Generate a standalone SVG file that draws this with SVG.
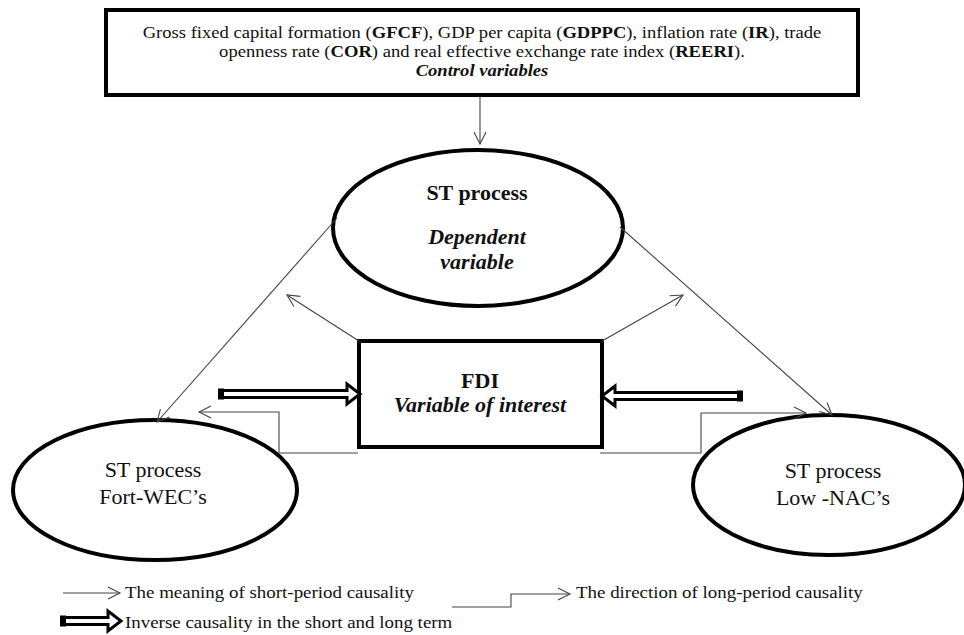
<svg xmlns="http://www.w3.org/2000/svg" width="964" height="635" viewBox="0 0 964 635">
<style>
.t{font-family:"Liberation Serif","Times New Roman",serif;fill:#111}
.b{font-weight:bold}
.i{font-style:italic}
.box{fill:#fff;stroke:#000;stroke-width:4}
.thin{fill:none;stroke:#444;stroke-width:1.1}
.dbl{fill:#fff;stroke:#000;stroke-width:3}
</style>
<defs>
<marker id="ah" markerUnits="userSpaceOnUse" markerWidth="14" markerHeight="14" refX="12" refY="6" orient="auto" overflow="visible">
<path d="M0,0 L12,6 L0,12" fill="none" stroke="#444" stroke-width="1.1"/>
</marker>
</defs>
<rect width="964" height="635" fill="#fff"/>

<g id="controls">
<rect class="box" x="106" y="10" width="752" height="85"/>
<text class="t" font-size="16.9" text-anchor="middle" transform="translate(482,38) scale(1.1,1)">Gross fixed capital formation (<tspan class="b">GFCF</tspan>), GDP per capita (<tspan class="b">GDPPC</tspan>), inflation rate (<tspan class="b">IR</tspan>), trade</text>
<text class="t" font-size="16.9" text-anchor="middle" transform="translate(482,57) scale(1.1,1)">openness rate (<tspan class="b">COR</tspan>) and real effective exchange rate index (<tspan class="b">REERI</tspan>).</text>
<text class="t b i" font-size="16.9" text-anchor="middle" transform="translate(482,76) scale(1.1,1)">Control variables</text>
</g>

<g id="st-dependent">
<ellipse class="box" cx="478" cy="228" rx="145" ry="78"/>
<text class="t b" font-size="20" text-anchor="middle" transform="translate(477,200) scale(1.1,1)">ST process</text>
<text class="t b i" font-size="20" text-anchor="middle" transform="translate(477,244) scale(1.1,1)">Dependent</text>
<text class="t b i" font-size="20" text-anchor="middle" transform="translate(477,269) scale(1.1,1)">variable</text>
</g>

<g id="fdi">
<rect class="box" x="359" y="341" width="243" height="106" stroke-width="3.5"/>
<text class="t b" font-size="20" text-anchor="middle" transform="translate(480,388) scale(1.1,1)">FDI</text>
<text class="t b i" font-size="20" text-anchor="middle" transform="translate(480,412) scale(1.1,1)">Variable of interest</text>
</g>

<g id="fort-wec">
<ellipse class="box" cx="155" cy="490" rx="142" ry="70"/>
<text class="t" font-size="20" text-anchor="middle" transform="translate(153,477) scale(1.1,1)">ST process</text>
<text class="t" font-size="20" text-anchor="middle" transform="translate(153,504) scale(1.1,1)">Fort-WEC’s</text>
</g>

<g id="low-nac">
<ellipse class="box" cx="829" cy="485" rx="136" ry="70"/>
<text class="t" font-size="20" text-anchor="middle" transform="translate(833,478) scale(1.1,1)">ST process</text>
<text class="t" font-size="20" text-anchor="middle" transform="translate(833,505) scale(1.1,1)">Low -NAC’s</text>
</g>

<g id="connectors">
<path class="thin" d="M480,97 V144" marker-end="url(#ah)"/>
<path class="thin" d="M359,341 L287,295" marker-end="url(#ah)"/>
<path class="thin" d="M602,341 L683,295" marker-end="url(#ah)"/>
<path class="thin" d="M337,218 L157,422" marker-end="url(#ah)"/>
<path class="thin" d="M620,227 L832,415" marker-end="url(#ah)"/>
<path class="thin" d="M358,453 H279 V412 H199" marker-end="url(#ah)"/>
<path class="thin" d="M600,453 H701 V413 H806" marker-end="url(#ah)"/>
<path class="dbl" d="M221,390.5 H347 V384 L360,394 L347,404 V397.5 H221 Z"/>
<rect x="218" y="388.5" width="6" height="11" fill="#000"/>
<path class="dbl" d="M740,392.5 H615 V386 L602,396 L615,406 V399.5 H740 Z"/>
<rect x="737" y="390.5" width="6" height="11" fill="#000"/>
</g>

<g id="legend">
<path class="thin" d="M63,593 H120" marker-end="url(#ah)"/>
<text class="t" font-size="17.2" transform="translate(125,598) scale(1.1,1)">The meaning of short-period causality</text>
<path class="thin" d="M452,607 H511 V594 H570" marker-end="url(#ah)"/>
<text class="t" font-size="17.2" transform="translate(576,598) scale(1.1,1)">The direction of long-period causality</text>
<path class="dbl" d="M63,617.5 H108 V611 L121,621 L108,631 V624.5 H63 Z"/>
<rect x="60" y="615.5" width="6" height="11" fill="#000"/>
<text class="t" font-size="17.2" transform="translate(125,628) scale(1.1,1)">Inverse causality in the short and long term</text>
</g>
</svg>
